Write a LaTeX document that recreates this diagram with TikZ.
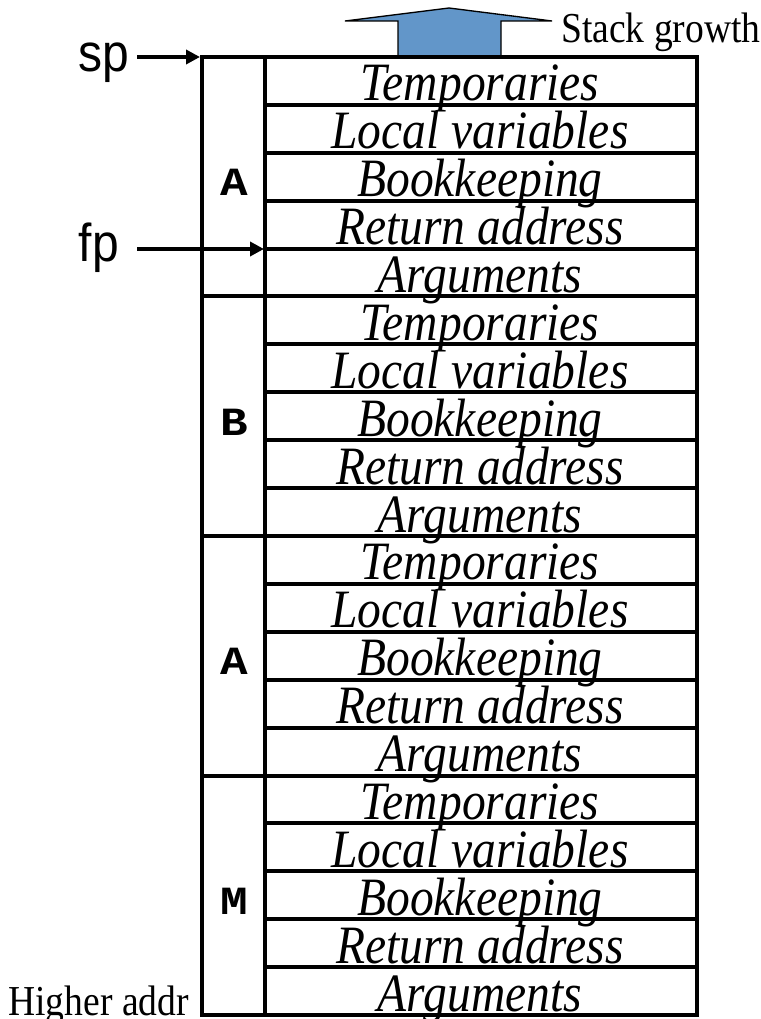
\documentclass[tikz,border=0pt]{standalone}
\usepackage{fontspec}
\usepackage{graphicx}
\setmainfont{Liberation Serif}
\newfontfamily\arialfont{Liberation Sans}
\newfontfamily\courfont{Liberation Mono}
\usetikzlibrary{arrows.meta}
\definecolor{growblue}{RGB}{98,150,201}
\newcommand{\hsq}[1]{\scalebox{0.88}[1]{#1}}
\begin{document}
\begin{tikzpicture}[x=0.75pt,y=-0.75pt,
  frameline/.style={line width=3pt},
  celltext/.style={anchor=base,inner sep=0pt,font=\fontsize{40.5}{40.5}\selectfont\itshape},
  frametag/.style={anchor=base,inner sep=0pt,font=\fontsize{30}{30}\selectfont\courfont\bfseries},
  ptrlabel/.style={inner sep=0pt,anchor=base east,font=\fontsize{40}{40}\selectfont\arialfont},
  plainlabel/.style={inner sep=0pt,font=\fontsize{32}{32}\selectfont},
  ptr/.style={line width=3pt,-{Triangle[length=10.5pt,width=10.5pt]}},
  growth/.style={fill=growblue,draw=black,line width=1pt,line join=miter}]
\useasboundingbox (0,0) rectangle (760,1019);
% growth arrow
\draw[growth] (398,57) -- (398,21) -- (345,21) -- (449,8) -- (552,21) -- (501,21) -- (501,57) -- cycle;
\node[plainlabel,anchor=base west] (growthlabel) at (561,43) {\hsq{Stack growth}};
% frame
\draw[frameline] (202,57) rectangle (697,1015);
\draw[frameline] (265,57) -- (265,1015);
\foreach \k in {1,...,19}{
  \pgfmathtruncatemacro\m{mod(\k,5)}
  \pgfmathsetmacro\yy{57+\k*47.9}
  \ifnum\m=0
    \draw[frameline] (202,\yy) -- (697,\yy);
  \else
    \draw[frameline] (265,\yy) -- (697,\yy);
  \fi
}
% texts
\foreach \g/\lab in {0/A,1/B,2/A,3/M}{
  \foreach \r/\txt in {0/Temporaries,1/Local variables,2/Bookkeeping,3/Return address,4/Arguments}{
    \pgfmathsetmacro\yb{57+(5*\g+\r+1)*47.9-4}
    \node[celltext] (t\g\r) at (480,\yb) {\hsq{\txt}};
  }
  \pgfmathsetmacro\yc{57+(5*\g+2.5)*47.9+19}
  \node[frametag] (g\g) at (234,\yc) {\scalebox{1.15}[1]{\lab}};
}
\node[plainlabel,anchor=base east] (higher) at (189,1015) {\hsq{Higher addr}};
% pointers
\coordinate (sptip) at (200,57);
\coordinate (fptip) at (264,249);
\node[ptrlabel] (sp) at (129,72) {\scalebox{0.9}[1]{sp}};
\node[ptrlabel] (fp) at (119,262) {\scalebox{0.9}[1]{fp}};
\draw[ptr] (sp.east |- sptip) ++(8,0) -- (sptip);
\draw[ptr] (fp.east |- fptip) ++(18,0) -- (fptip);
\end{tikzpicture}
\end{document}
